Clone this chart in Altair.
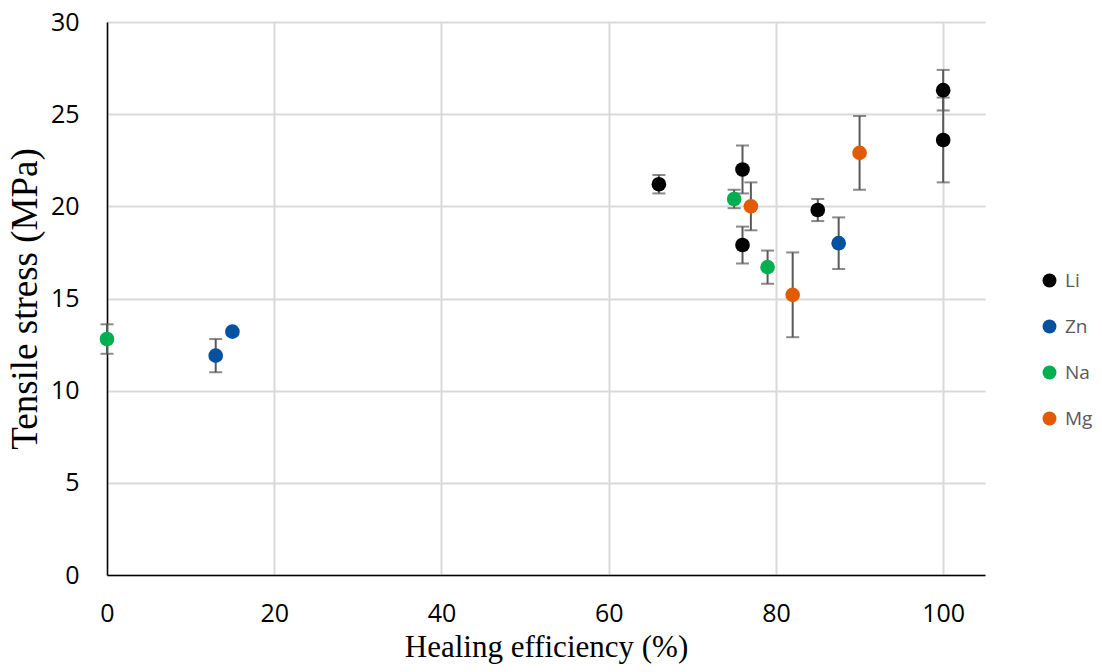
import altair as alt
import pandas as pd

series = ["Li", "Li", "Li", "Li", "Li", "Li",
          "Zn", "Zn", "Zn",
          "Na", "Na", "Na",
          "Mg", "Mg", "Mg"]
efficiency = [66, 76, 76, 85, 100, 100,
              13, 15, 87.5,
              0, 75, 79,
              77, 82, 90]
stress = [21.2, 22.0, 17.9, 19.8, 26.3, 23.6,
          11.9, 13.2, 18.0,
          12.8, 20.4, 16.7,
          20.0, 15.2, 22.9]
error = [0.5, 1.3, 1.0, 0.6, 1.1, 2.3,
         0.9, 0.0, 1.4,
         0.8, 0.5, 0.9,
         1.3, 2.3, 2.0]

order = ["Li", "Zn", "Na", "Mg"]
colors = ["#000000", "#04529F", "#00B050", "#E25B00"]

df = pd.DataFrame({"series": series, "x": efficiency, "y": stress, "err": error})
df["lo"] = df["y"] - df["err"]
df["hi"] = df["y"] + df["err"]

xscale = alt.Scale(domain=[0, 105], nice=False, zero=False)
yscale = alt.Scale(domain=[0, 30], nice=False)

base = alt.Chart(df)
eb = base.transform_filter("datum.err > 0")

rules = eb.mark_rule(color="#595959", strokeWidth=2).encode(
    x=alt.X("x:Q", scale=xscale), y=alt.Y("lo:Q", scale=yscale), y2="hi:Q")
cap_lo = eb.mark_tick(color="#595959", orient="horizontal", size=13, thickness=2).encode(
    x=alt.X("x:Q", scale=xscale), y=alt.Y("lo:Q", scale=yscale))
cap_hi = eb.mark_tick(color="#595959", orient="horizontal", size=13, thickness=2).encode(
    x=alt.X("x:Q", scale=xscale), y=alt.Y("hi:Q", scale=yscale))

points = base.mark_circle(size=215, opacity=1).encode(
    x=alt.X("x:Q", scale=xscale,
            axis=alt.Axis(title="Healing efficiency (%)", values=[0, 20, 40, 60, 80, 100],
                          titleFontSize=31, titlePadding=6, labelPadding=26,
                          labelFlush=False)),
    y=alt.Y("y:Q", scale=yscale,
            axis=alt.Axis(title="Tensile stress (MPa)", values=[0, 5, 10, 15, 20, 25, 30],
                          titleFontSize=37, titlePadding=6, labelPadding=28,
                          labelFlush=False)),
    color=alt.Color("series:N", scale=alt.Scale(domain=order, range=colors), sort=order,
                    legend=alt.Legend(title=None, orient="none", legendX=933, legendY=249,
                                      padding=0,
                                      symbolType="circle", symbolSize=194,
                                      labelFontSize=19, labelColor="#595959",
                                      labelFont="Open Sans", rowPadding=26,
                                      labelOffset=6)),
)

chart = alt.layer(rules, cap_lo, cap_hi, points).properties(
    width=878, height=553,
    padding={"left": 99, "top": 14, "right": 109, "bottom": 89},
    autosize=alt.AutoSizeParams(type="none"),
).configure_view(stroke=None).configure_axis(
    grid=True, gridColor="#D9D9D9", gridWidth=2,
    domainColor="#000000", domainWidth=1.5,
    ticks=False,
    labelFont="Open Sans", labelFontSize=25, labelColor="#000000",
    titleFont="Liberation Serif", titleFontWeight="normal",
    titleColor="#000000",
)

chart.save("out.html", embed_options={"renderer": "svg", "actions": False})
